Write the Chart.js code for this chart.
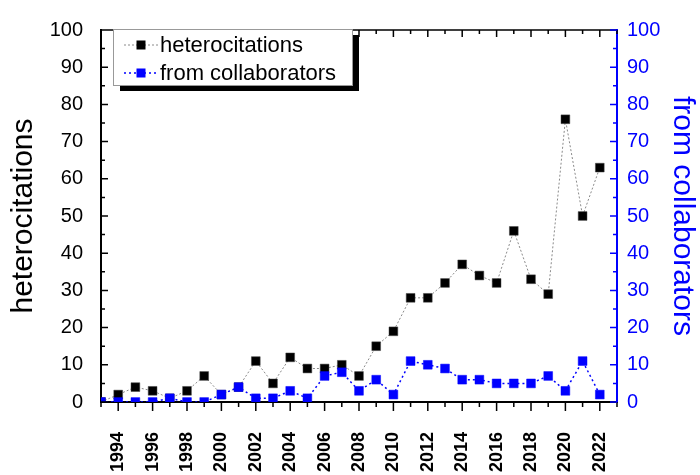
<!DOCTYPE html>
<html lang="en">
<head>
<meta charset="UTF-8">
<title>heterocitations</title>
<script src="https://cdn.jsdelivr.net/npm/chart.js"></script>
<style>
  html, body { margin: 0; padding: 0; background: #fff; }
  #wrap { width: 700px; height: 475px; }
</style>
</head>
<body>
<div id="wrap"><canvas id="chart" width="700" height="475"></canvas></div>
<script>
// values
const years = [1993, 1994, 1995, 1996, 1997, 1998, 1999, 2000, 2001, 2002,
               2003, 2004, 2005, 2006, 2007, 2008, 2009, 2010, 2011, 2012,
               2013, 2014, 2015, 2016, 2017, 2018, 2019, 2020, 2021, 2022];
const heterocitations = [0, 2, 4, 3, 1, 3, 7, 2, 4, 11,
                         5, 12, 9, 9, 10, 7, 15, 19, 28, 28,
                         32, 37, 34, 32, 46, 33, 29, 76, 50, 63];
const fromCollaborators = [0, 0, 0, 0, 1, 0, 0, 2, 4, 1,
                           1, 3, 1, 7, 8, 3, 6, 2, 11, 10,
                           9, 6, 6, 5, 5, 5, 7, 3, 11, 2];
const yearRange = [1993, 2023];
const countRange = [0, 100];

const FONT = "'Liberation Sans', Arial, sans-serif";
const BLUE = '#0000ff';

// Origin-style inward/outward tick marks + top frame line
const frameTicks = {
  id: 'frameTicks',
  afterDraw(chart) {
    const { ctx, chartArea: a, scales } = chart;
    const x = scales.x, y = scales.y, y2 = scales.y2;
    ctx.save();
    ctx.lineWidth = 1.5;
    ctx.strokeStyle = '#000';
    ctx.beginPath();
    ctx.moveTo(a.left, a.top);
    ctx.lineTo(a.right, a.top);
    for (let v = yearRange[0]; v <= yearRange[1]; v++) {
      const px = x.getPixelForValue(v);
      const major = v % 2 === 0;
      ctx.moveTo(px, a.bottom);
      ctx.lineTo(px, a.bottom + (major ? 9 : 5));
      ctx.moveTo(px, a.top);
      ctx.lineTo(px, a.top + (major ? 7 : 4));
    }
    for (let v = countRange[0]; v <= countRange[1]; v += 5) {
      const py = y.getPixelForValue(v);
      ctx.moveTo(a.left, py);
      ctx.lineTo(a.left + (v % 10 === 0 ? 7 : 4), py);
    }
    ctx.stroke();
    ctx.strokeStyle = BLUE;
    ctx.beginPath();
    for (let v = countRange[0]; v <= countRange[1]; v += 5) {
      const py = y2.getPixelForValue(v);
      ctx.moveTo(a.right, py);
      ctx.lineTo(a.right - (v % 10 === 0 ? 7 : 4), py);
    }
    ctx.stroke();
    ctx.restore();
  }
};

// boxed legend with drop shadow
const boxLegend = {
  id: 'boxLegend',
  afterDraw(chart) {
    const { ctx } = chart;
    const bx = 113, by = 29, bw = 239, bh = 56;
    ctx.save();
    ctx.fillStyle = '#000';
    ctx.fillRect(bx + 7, by + 6, bw, bh);
    ctx.fillStyle = '#fff';
    ctx.fillRect(bx, by, bw, bh);
    ctx.strokeStyle = '#999';
    ctx.lineWidth = 1;
    ctx.strokeRect(bx + 0.5, by + 0.5, bw, bh);
    chart.data.datasets.forEach((ds, i) => {
      const ly = by + 16 + i * 28;
      ctx.strokeStyle = ds.borderColor;
      ctx.lineWidth = ds.borderWidth;
      ctx.setLineDash(ds.borderDash);
      ctx.beginPath();
      ctx.moveTo(bx + 11, ly);
      ctx.lineTo(bx + 45, ly);
      ctx.stroke();
      ctx.setLineDash([]);
      ctx.fillStyle = ds.pointBackgroundColor;
      ctx.fillRect(bx + 28 - 4.5, ly - 4.5, 9, 9);
      ctx.fillStyle = '#000';
      ctx.font = '22px ' + FONT;
      ctx.textBaseline = 'middle';
      ctx.fillText(ds.label, bx + 47, ly + 1);
    });
    ctx.restore();
  }
};

new Chart(document.getElementById('chart'), {
  type: 'line',
  data: {
    datasets: [
      {
        label: 'heterocitations',
        data: years.map((yr, i) => ({ x: yr, y: heterocitations[i] })),
        yAxisID: 'y',
        order: 1,
        borderColor: '#8a8a8a',
        borderWidth: 1,
        borderDash: [2, 2],
        pointStyle: 'rect',
        pointRadius: 6.2,
        pointBackgroundColor: '#000',
        pointBorderColor: '#444',
        pointBorderWidth: 0.5
      },
      {
        label: 'from collaborators',
        data: years.map((yr, i) => ({ x: yr, y: fromCollaborators[i] })),
        yAxisID: 'y2',
        order: 0,
        borderColor: BLUE,
        borderWidth: 1.5,
        borderDash: [2, 3],
        pointStyle: 'rect',
        pointRadius: 6.2,
        pointBackgroundColor: BLUE,
        pointBorderColor: BLUE,
        pointBorderWidth: 0.5
      }
    ]
  },
  options: {
    responsive: false,
    animation: false,
    devicePixelRatio: 1,
    layout: { padding: { top: 20, left: 0, right: 0, bottom: 0 } },
    plugins: { legend: { display: false }, tooltip: { enabled: false } },
    scales: {
      x: {
        type: 'linear',
        min: yearRange[0], max: yearRange[1],
        afterFit: s => { s.height = 73; },
        grid: { display: false, drawTicks: false },
        border: { color: '#000', width: 2 },
        ticks: {
          stepSize: 1, autoSkip: false, minRotation: 90, maxRotation: 90,
          padding: 30, color: '#000',
          font: { family: FONT, size: 18, weight: 'bold' },
          callback: v => (v % 2 === 0 ? String(v) : '')
        }
      },
      y: {
        position: 'left',
        min: countRange[0], max: countRange[1],
        afterFit: s => { s.width = 101; },
        grid: { display: false, drawTicks: false },
        border: { color: '#000', width: 2 },
        ticks: { stepSize: 10, padding: 18, color: '#000', font: { family: FONT, size: 20 } },
        title: {
          display: true, text: 'heterocitations', color: '#000',
          padding: { top: 6, bottom: 0 },
          font: { family: FONT, size: 30 }
        }
      },
      y2: {
        position: 'right',
        min: countRange[0], max: countRange[1],
        afterFit: s => { s.width = 83; },
        grid: { display: false, drawTicks: false },
        border: { color: BLUE, width: 2 },
        ticks: { stepSize: 10, padding: 10, color: BLUE, font: { family: FONT, size: 20 } },
        title: {
          display: true, text: 'from collaborators', color: BLUE,
          padding: { top: 0, bottom: 0 },
          font: { family: FONT, size: 30 }
        }
      }
    }
  },
  plugins: [frameTicks, boxLegend]
});
</script>
</body>
</html>
